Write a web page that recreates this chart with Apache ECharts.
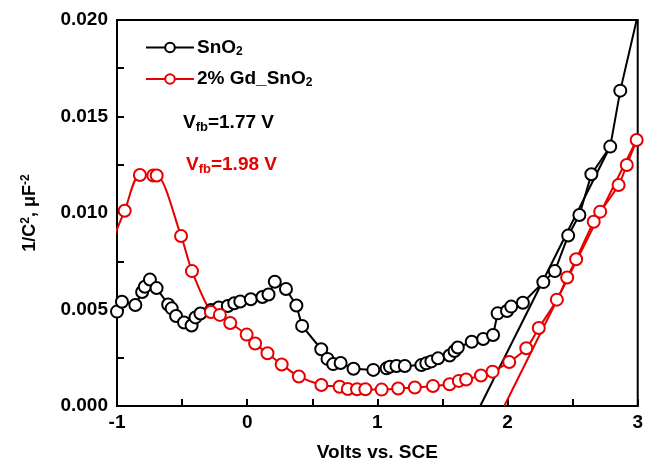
<!DOCTYPE html>
<html><head><meta charset="utf-8">
<script src="https://cdn.jsdelivr.net/npm/echarts@6/dist/echarts.min.js"></script>
<style>html,body{margin:0;padding:0;background:#fff}#c{width:646px;height:468px}</style>
</head><body><div id="c"></div>
<script>
const xTicks = [-1, 0, 1, 2, 3];
const yTicks = [0.000, 0.005, 0.010, 0.015, 0.020];
const sno2X = [-1.000,-0.962,-0.859,-0.807,-0.786,-0.747,-0.696,-0.607,-0.580,-0.546,-0.485,-0.427,-0.397,-0.359,-0.277,-0.218,-0.149,-0.099,-0.053,0.028,0.117,0.164,0.212,0.298,0.378,0.422,0.569,0.617,0.661,0.718,0.817,0.969,1.071,1.097,1.147,1.211,1.338,1.376,1.415,1.466,1.555,1.593,1.618,1.725,1.813,1.889,1.924,1.996,2.028,2.118,2.275,2.363,2.466,2.552,2.644,2.789,2.866,3.04];
const sno2Y = [0.00489,0.00540,0.00523,0.00591,0.00618,0.00655,0.00611,0.00526,0.00506,0.00466,0.00433,0.00417,0.00459,0.00479,0.00497,0.00510,0.00518,0.00532,0.00541,0.00553,0.00565,0.00578,0.00644,0.00606,0.00521,0.00415,0.00294,0.00244,0.00217,0.00223,0.00193,0.00187,0.00195,0.00204,0.00207,0.00207,0.00212,0.00221,0.00231,0.00247,0.00262,0.00285,0.00303,0.00333,0.00347,0.00368,0.00480,0.00492,0.00515,0.00535,0.00642,0.00699,0.00883,0.00990,0.01201,0.01344,0.01634,0.0214];
const gdX = [-1.04,-0.941,-0.824,-0.721,-0.695,-0.508,-0.424,-0.279,-0.210,-0.130,-0.004,0.061,0.156,0.265,0.397,0.570,0.710,0.773,0.844,0.908,1.033,1.160,1.288,1.427,1.555,1.626,1.682,1.796,1.885,2.013,2.144,2.240,2.379,2.458,2.527,2.662,2.712,2.853,2.916,2.992];
const gdY = [0.00850,0.01012,0.01197,0.01194,0.01194,0.00881,0.00699,0.00487,0.00472,0.00430,0.00370,0.00324,0.00273,0.00215,0.00153,0.00109,0.00100,0.00088,0.00087,0.00087,0.00085,0.00091,0.00096,0.00104,0.00113,0.00130,0.00137,0.00158,0.00178,0.00228,0.00299,0.00404,0.00551,0.00666,0.00760,0.00955,0.01007,0.01145,0.01249,0.01378];
const fitSnO2X = [1.79, 2.80];
const fitSnO2Y = [0.0, 0.0136];
const fitGdX = [1.975, 3.0];
const fitGdY = [0.0, 0.0139];
const names = ['SnO2', '2% Gd_SnO2'];

const zip = (a, b) => a.map((v, i) => [v, b[i]]);
const FONT = 'Liberation Sans, Arial, sans-serif';
const chart = echarts.init(document.getElementById('c'));
chart.setOption({
  animation: false,
  backgroundColor: '#fff',
  grid: {left: 117, right: 5, top: 20, bottom: 62, show: true, borderColor: '#000', borderWidth: 2},
  legend: {
    data: names, orient: 'vertical', left: 140, top: 33, itemWidth: 48, itemHeight: 12, itemGap: 12,
    formatter: n => n === 'SnO2' ? 'SnO{s|2}' : '2% Gd_SnO{s|2}',
    textStyle: {fontFamily: FONT, fontWeight: 'bold', fontSize: 19, color: '#000', padding: [0,0,0,-2],
      rich: {s: {fontFamily: FONT, fontWeight: 'bold', fontSize: 12, verticalAlign: 'bottom', padding: [8,0,0,0]}}}
  },
  xAxis: {
    type: 'value', min: xTicks[0], max: xTicks[xTicks.length-1], interval: 1,
    name: 'Volts vs. SCE', nameLocation: 'middle', nameGap: 37,
    nameTextStyle: {fontFamily: FONT, fontWeight: 'bold', fontSize: 19, color: '#000'},
    axisLine: {onZero: false, lineStyle: {color: '#000', width: 2}},
    axisTick: {inside: true, length: 7, lineStyle: {color: '#000', width: 2}},
    minorTick: {show: true, splitNumber: 2, length: 7, lineStyle: {color: '#000', width: 2}},
    splitLine: {show: false},
    axisLabel: {fontFamily: FONT, fontWeight: 'bold', fontSize: 19, color: '#000', margin: 7}
  },
  yAxis: {
    type: 'value', min: yTicks[0], max: yTicks[yTicks.length-1], interval: 0.005,
    name: '1/C{sup|2}, μF{sup|-2}', nameLocation: 'middle', nameGap: 77,
    nameTextStyle: {fontFamily: FONT, fontWeight: 'bold', fontSize: 18, color: '#000',
      rich: {sup: {fontFamily: FONT, fontWeight: 'bold', fontSize: 12, verticalAlign: 'top', padding: [0,0,8,0]}}},
    axisLine: {onZero: false, lineStyle: {color: '#000', width: 2}},
    axisTick: {inside: true, length: 7, lineStyle: {color: '#000', width: 2}},
    minorTick: {show: true, splitNumber: 2, length: 7, lineStyle: {color: '#000', width: 2}},
    splitLine: {show: false},
    axisLabel: {fontFamily: FONT, fontWeight: 'bold', fontSize: 19, color: '#000', margin: 9,
      formatter: v => v.toFixed(3)}
  },
  series: [
    {name: names[0], type: 'line', data: zip(sno2X, sno2Y), symbol: 'emptyCircle', symbolSize: 12,
     lineStyle: {color: '#000', width: 2}, itemStyle: {color: '#000', borderWidth: 1.5}, z: 3},
    {name: names[1], type: 'line', data: zip(gdX, gdY), symbol: 'emptyCircle', symbolSize: 12, smooth: 0.3,
     lineStyle: {color: '#e60000', width: 2}, itemStyle: {color: '#e60000', borderWidth: 1.5}, z: 3},
    {name: 'fit1', type: 'line', data: zip(fitSnO2X, fitSnO2Y), symbol: 'none',
     lineStyle: {color: '#000', width: 2}, z: 2},
    {name: 'fit2', type: 'line', data: zip(fitGdX, fitGdY), symbol: 'none',
     lineStyle: {color: '#e60000', width: 2}, z: 2}
  ],
  graphic: [
    {type: 'text', left: 183, top: 113, style: {text: 'V{s|fb}=1.77 V', fill: '#000',
      font: 'bold 19px ' + FONT,
      rich: {s: {fontFamily: FONT, fontWeight: 'bold', fontSize: 13, fill: '#000', verticalAlign: 'bottom', padding: [9,0,0,0]}}}},
    {type: 'text', left: 186, top: 155, style: {text: 'V{s|fb}=1.98 V', fill: '#e60000',
      font: 'bold 19px ' + FONT,
      rich: {s: {fontFamily: FONT, fontWeight: 'bold', fontSize: 13, fill: '#e60000', verticalAlign: 'bottom', padding: [9,0,0,0]}}}}
  ]
});
</script></body></html>
